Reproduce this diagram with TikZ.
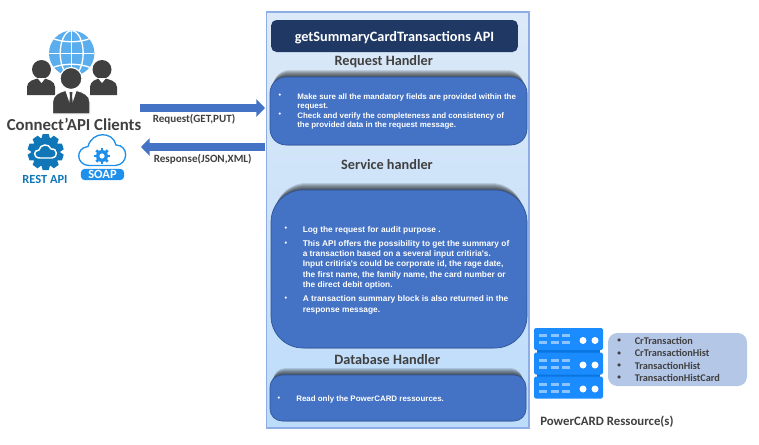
\documentclass[tikz,border=0pt]{standalone}
\usepackage{fontspec}
\setmainfont{Carlito}
\newfontfamily\arialfont{Liberation Sans}
\usetikzlibrary{arrows.meta}
\definecolor{panelTop}{HTML}{DCE9F8}
\definecolor{panelBot}{HTML}{BCDCFA}
\definecolor{panelEdge}{HTML}{8FAEE6}
\definecolor{titleBlue}{HTML}{1F3864}
\definecolor{boxBlue}{HTML}{4472C4}
\definecolor{boxEdge}{HTML}{2F5597}
\definecolor{darkText}{HTML}{404040}
\definecolor{globeBlue}{HTML}{5AAEEE}
\definecolor{gearBlue}{HTML}{0F76B8}
\definecolor{soapBlue}{HTML}{1E90EC}
\definecolor{srvBlue}{HTML}{1A8CFF}
\definecolor{srvDark}{HTML}{0A74E0}
\definecolor{srvLight}{HTML}{8CC4FF}
\definecolor{listBlue}{HTML}{B4C7E7}
\tikzset{
	heading/.style={font=\fontsize{10.7}{12}\selectfont\bfseries,text=darkText,inner sep=0pt},
	bodytext/.style={font=\arialfont\fontsize{5.95}{7.2}\selectfont\bfseries,text=white,align=left,anchor=north west,inner sep=0pt},
	bodylarge/.style={bodytext,font=\arialfont\fontsize{6.25}{7.65}\selectfont\bfseries},
	bulletmark/.style={font=\arialfont\fontsize{5.5}{6}\selectfont\bfseries,text=white,inner sep=0pt},
	handlerbox/.style={fill=boxBlue,draw=boxEdge,line width=0.5pt},
	blockarrow/.style={draw=boxBlue,line width=6.5pt,-{Triangle[length=6.5pt,width=13pt]}},
	msglabel/.style={font=\fontsize{8.3}{10}\selectfont\bfseries,text=darkText,inner sep=0pt,anchor=west},
	listtext/.style={font=\fontsize{7.7}{9}\selectfont\bfseries,text=darkText,inner sep=0pt,anchor=west},
	person/.style={fill=darkText}
}
% soft dark band along the top of a box
\newcommand{\softshadow}[5]{%
	\foreach \i in {1,...,7}
	\fill[black,opacity=0.12,rounded corners=#5] (#1+\i/2,#2-\i) rectangle (#3-\i/2,#4);
}
\begin{document}
\begin{tikzpicture}[x=0.75pt,y=-0.75pt,>=stealth]
	\useasboundingbox (0,0) rectangle (759,444);
	% main panel
	\shade[top color=panelTop,bottom color=panelBot,draw=panelEdge,line width=0.8pt] (266.5,12) rectangle (529,428);
	\node[fill=titleBlue,rounded corners=4pt,minimum width=185pt,minimum height=24pt,inner sep=0pt,text=white,text height=8.5pt,text depth=0pt,font=\fontsize{10.7}{13}\selectfont\bfseries] (titlebox) at (394.5,36) {getSummaryCardTransactions API};
	\node[heading] (reqhead) at (383.7,61.2) {Request Handler};
	\node[heading] (srvhead) at (387,164.5) {Service handler};
	\node[heading] (dbhead) at (387.3,359.8) {Database Handler};
	% handler boxes
	\softshadow{270}{77}{527}{145}{12pt}
	\draw[handlerbox,rounded corners=12pt] (270,77) rectangle (527,145);
	\softshadow{271}{190}{527}{348}{24pt}
	\draw[handlerbox,rounded corners=24pt] (271,190) rectangle (527,348);
	\softshadow{270}{375}{526}{421}{9pt}
	\draw[handlerbox,rounded corners=9pt] (270,375) rectangle (526,421);
	% request text
	\node[bulletmark] (b1) at (280,96) {•};
	\node[bodytext] (t1) at (297,93) {Make sure all the mandatory fields are provided within the\\request.};
	\node[bulletmark] (b2) at (280,115) {•};
	\node[bodytext] (t2) at (297,112) {Check and verify the completeness and consistency of\\the provided data in the request message.};
	% service text
	\node[bulletmark] (b3) at (286,229) {•};
	\node[bodylarge] (t3) at (302.5,225.8) {Log the request for audit purpose .};
	\node[bulletmark] (b4) at (286,243.5) {•};
	\node[bodylarge] (t4) at (302.5,240.2) {This API offers the possibility to get the summary of\\a transaction based on a several input critiria's.\\Input critiria's could be corporate id, the rage date,\\the first name, the family name, the card number or\\the direct debit option.};
	\node[bulletmark] (b5) at (286,299) {•};
	\node[bodylarge] (t5) at (302.5,295.6) {A transaction summary block is also returned in the\\response message.};
	% database text
	\node[bulletmark] (b6) at (279,398.5) {•};
	\node[bodytext] (t6) at (296,395) {Read only the PowerCARD ressources.};
	% request and response arrows
	\coordinate (reqstart) at (140,108);
	\coordinate (reqend) at (265,108);
	\coordinate (respstart) at (265,147);
	\coordinate (respend) at (141,147);
	\draw[blockarrow] (reqstart) -- (reqend);
	\draw[blockarrow] (respstart) -- (respend);
	\node[msglabel] (reqlabel) at (152.5,119) {Request(GET,PUT)};
	\node[msglabel] (resplabel) at (153.5,159) {Response(JSON,XML)};
	% globe
	\begin{scope}
		\fill[globeBlue] (71.7,53.3) circle (22.7);
		\clip (71.7,53.3) circle (22.7);
		\draw[white,line width=1pt] (71.7,30)--(71.7,77) (49,53.3)--(95,53.3);
		\draw[white,line width=1pt] (71.7,53.3) ellipse (11.5 and 22.7);
		\draw[white,line width=1pt] (52,38) .. controls (62,43) and (81,43) .. (91,38) (52,68) .. controls (62,63) and (81,63) .. (91,68);
	\end{scope}
	% clients
	\fill[person] (41.5,69.5) circle (9.5) (102,69.5) circle (9.5);
	\fill[person] (27,95) -- (27,87) .. controls (27,81) and (34,79) .. (41,78) .. controls (48,79) and (55,81) .. (55,87) -- (55,95) -- cycle;
	\fill[person] (90,95) -- (90,87) .. controls (90,81) and (96,79) .. (102,78) .. controls (109,79) and (117,81) .. (117,87) -- (117,95) -- cycle;
	\fill[white] (37.5,78) -- (45.5,78) -- (41.5,83) -- cycle (98,78) -- (106,78) -- (102,83) -- cycle;
	\draw[person,draw=white,line width=0.9pt] (71,78.5) circle (11);
	\draw[person,draw=white,line width=0.9pt] (52.5,114) -- (52.5,102) .. controls (52.5,95) and (59,92) .. (65,90.5) -- (77,90.5) .. controls (83,92) and (90,95) .. (90,102) -- (90,114) -- cycle;
	\fill[white] (65.5,91) -- (76.5,91) -- (71,107) -- cycle;
	\fill[person] (69.5,92) -- (72.5,92) -- (72,96) -- (73,105) -- (71,109) -- (69,105) -- (70,96) -- cycle;
	\node[font=\fontsize{12.6}{15}\selectfont\bfseries,text=darkText,inner sep=0pt] (clients) at (74,124) {Connect’API Clients};
	% rest icon
	\foreach \a in {0,36,...,324}
	\fill[gearBlue,rotate around={\a:(45.7,152)}] (42.7,134) -- (48.7,134) -- (51,142) -- (40.4,142) -- cycle;
	\fill[gearBlue] (45.7,152) circle (14.5);
	\draw[white,line width=1.1pt,fill=gearBlue] (40,158) .. controls (33,158) and (33,150) .. (39,150) .. controls (40,144) and (49,143) .. (51,149) .. controls (58,148) and (58,158) .. (52,158) -- cycle;
	\node[font=\fontsize{9.3}{11}\selectfont\bfseries,text=gearBlue,inner sep=0pt] (restlabel) at (45,179) {REST API};
	% soap icon
	\draw[soapBlue,line width=1pt,fill=white] (89,165.5) .. controls (76,165) and (75,148) .. (88,146.5) .. controls (92,131) and (113,131) .. (116,145) .. controls (129,145) and (129,165) .. (115,165.5) -- cycle;
	\foreach \a in {0,45,...,315}
	\fill[soapBlue,rotate around={\a:(102,156)}] (100.6,148) rectangle (103.4,152);
	\fill[soapBlue] (102,156) circle (6);
	\fill[white] (102,156) circle (2.6);
	\node[fill=soapBlue,rounded corners=3pt,minimum width=32.5pt,minimum height=8.5pt,inner sep=0pt,text=white,text height=6.2pt,text depth=0pt,font=\fontsize{9.4}{10}\selectfont\bfseries] (soaplabel) at (102.5,174.5) {SOAP};
	% servers
	\fill[srvDark] (537,345) rectangle (600,381);
	\foreach \y in {328,352.5,376.5}{
		\fill[srvBlue,rounded corners=1.2pt] (534,\y) rectangle (603,\y+22);
		\foreach \x in {539,551,562}{
			\fill[srvLight] (\x,\y+6) rectangle (\x+8,\y+9);
			\fill[srvLight] (\x,\y+13) rectangle (\x+8,\y+16);
		}
		\fill[white] (583,\y+12.5) circle (3.5) (595,\y+12.5) circle (3.5);
	}
	% resource list
	\node[fill=listBlue,rounded corners=7pt,minimum width=104.25pt,minimum height=39.75pt,inner sep=0pt] (reslist) at (677.5,359.5) {};
	\foreach \n/\t/\y in {a/CrTransaction/341,b/CrTransactionHist/353.2,c/TransactionHist/366,d/TransactionHistCard/378}{
		\node[listtext,font=\fontsize{5.5}{7}\selectfont\bfseries] (bul\n) at (617,\y) {•};
		\node[listtext] (res\n) at (634.5,\y) {\t};
	}
	\node[font=\fontsize{9.6}{11}\selectfont\bfseries,text=darkText,inner sep=0pt,anchor=west] (reslabel) at (540,421.5) {PowerCARD Ressource(s)};
\end{tikzpicture}
\end{document}
